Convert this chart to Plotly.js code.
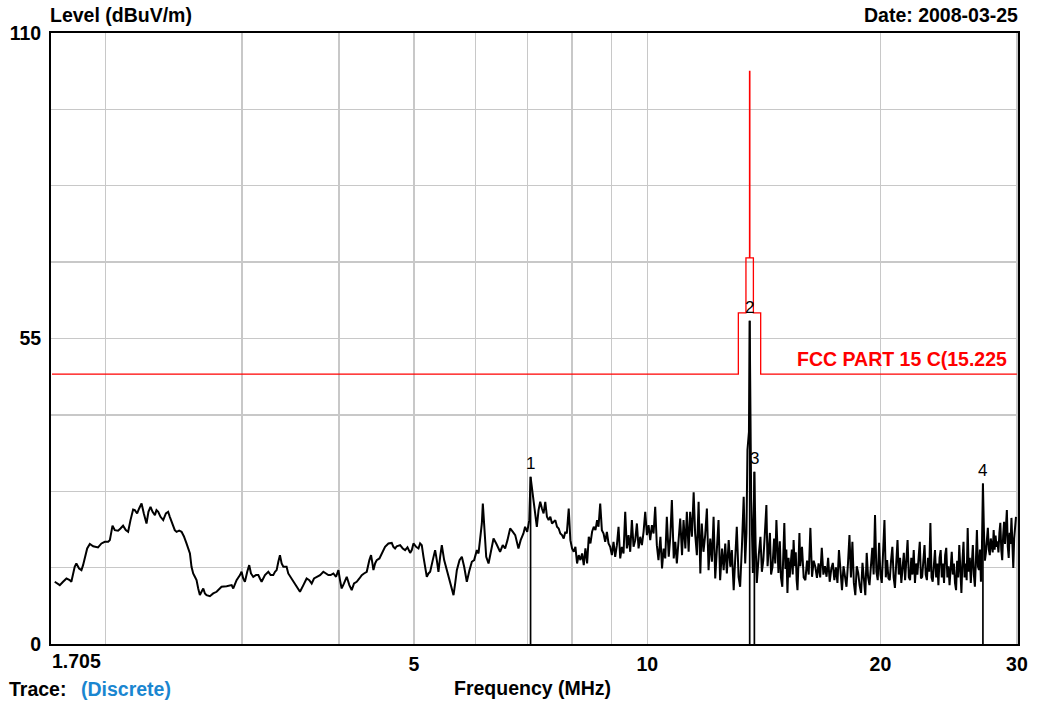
<!DOCTYPE html>
<html>
<head>
<meta charset="utf-8">
<script src="https://cdn.plot.ly/plotly-3.0.1.min.js"></script>
<style>html,body{margin:0;padding:0;background:#fff;}#chart{width:1038px;height:701px;}</style>
</head>
<body>
<div id="chart"></div>
<script>
// ---- Data ----
const traceFreq = [
1.719,1.745,1.762,1.780,1.797,1.806,1.824,1.833,1.848,1.861,1.870,1.879,1.893,1.908,1.927,1.955,1.975,1.995,2.015,2.025,
2.041,2.055,2.075,2.090,2.106,2.123,2.138,2.153,2.170,2.181,2.196,2.209,2.225,2.240,2.258,2.271,2.285,2.299,2.315,2.326,
2.338,2.354,2.373,2.392,2.408,2.420,2.432,2.456,2.469,2.488,2.506,2.523,2.543,2.556,2.569,2.581,2.594,2.607,2.620,2.633,
2.646,2.659,2.673,2.686,2.699,2.726,2.753,2.781,2.822,2.865,2.908,2.922,2.951,2.981,2.995,3.010,3.025,3.046,3.064,3.080,
3.101,3.126,3.148,3.163,3.179,3.211,3.243,3.265,3.291,3.308,3.324,3.341,3.357,3.374,3.391,3.408,3.424,3.441,3.476,3.510,
3.563,3.599,3.634,3.663,3.689,3.715,3.744,3.782,3.819,3.850,3.876,3.903,3.935,3.966,3.994,4.013,4.033,4.061,4.094,4.126,
4.155,4.184,4.217,4.251,4.281,4.310,4.345,4.379,4.401,4.419,4.432,4.454,4.476,4.512,4.543,4.566,4.588,4.634,4.680,4.703,
4.727,4.750,4.798,4.836,4.870,4.904,4.943,4.967,4.992,5.032,5.067,5.092,5.117,5.143,5.168,5.194,5.220,5.246,5.287,5.324,
5.351,5.377,5.404,5.431,5.469,5.512,5.567,5.623,5.651,5.679,5.724,5.764,5.804,5.850,5.897,5.938,5.979,6.027,6.057,6.087,
6.117,6.135,6.160,6.197,6.240,6.283,6.333,6.384,6.428,
6.458,6.509,6.555,6.601,6.654,6.708,6.755,6.820,6.865,6.922,6.956,7.000,7.043,7.070,7.131,7.167,7.203,7.240,7.276,7.313,
7.349,7.386,7.423,7.460,7.498,7.535,7.572,7.610,7.648,7.686,7.724,7.763,7.802,7.840,7.874,7.919,7.958,7.998,8.038,8.078,
8.118,8.158,8.199,8.240,8.281,8.322,8.364,8.405,8.447,8.489,8.531,8.574,8.616,8.652,
8.696,8.739,8.783,8.826,8.870,8.914,8.958,9.003,9.047,9.092,9.138,9.183,9.229,9.274,9.320,9.367,9.413,9.460,9.507,9.554,
9.602,9.650,9.698,9.746,9.794,9.843,9.892,9.941,9.991,10.04,10.09,10.14,10.19,10.24,10.29,10.34,10.40,10.45,10.50,10.55,
10.60,10.66,10.71,10.76,10.82,10.87,10.92,10.98,11.03,11.09,11.14,11.20,11.25,11.31,11.36,11.42,11.48,11.53,11.59,11.65,
11.71,11.76,11.82,11.88,11.94,12.00,12.06,12.12,12.18,12.24,12.30,12.36,12.42,12.49,12.55,12.61,12.67,12.74,12.80,12.86,
12.93,12.99,13.05,13.12,13.18,13.25,13.32,13.38,
13.43,13.47,13.53,13.56,13.59,13.62,13.65,13.69,13.72,13.75,13.80,13.85,
13.93,14.00,14.06,14.12,14.18,14.25,14.30,14.34,14.40,14.45,14.51,14.58,14.63,14.68,14.73,14.77,14.83,14.88,14.94,14.99,
15.03,15.08,15.12,15.17,15.22,15.27,15.31,15.37,15.41,15.45,15.50,15.55,15.59,15.63,15.68,15.72,
15.76,15.84,15.92,16.00,16.08,16.16,16.24,16.32,16.40,16.48,16.56,16.64,16.72,16.80,16.88,16.96,17.04,17.12,17.20,17.28,
17.36,17.44,17.52,17.60,17.68,17.76,17.84,17.92,18.00,18.08,18.16,18.24,18.32,18.40,18.48,18.56,18.64,18.72,18.80,18.88,
18.96,19.04,19.12,19.20,19.28,19.36,19.44,19.52,19.60,19.68,19.76,19.84,19.92,20.00,20.08,20.16,20.24,20.32,20.40,20.48,
20.56,20.64,20.72,20.80,20.88,20.96,21.04,21.12,21.20,21.28,21.36,21.44,21.52,21.60,21.68,21.76,21.84,21.92,22.00,22.08,
22.16,22.24,22.32,22.40,22.48,22.56,22.64,22.72,22.80,22.88,22.96,23.04,23.12,23.20,23.28,23.36,23.44,23.52,23.60,23.68,
23.76,23.84,23.92,24.00,24.08,24.16,24.24,24.32,24.40,24.48,24.56,24.64,24.72,24.80,24.88,24.96,25.04,25.12,25.20,25.28,
25.36,25.44,25.52,25.60,25.68,25.76,25.84,25.92,26.00,26.08,26.16,26.24,26.32,26.40,26.48,26.56,26.64,26.72,26.80,26.88,
26.96,27.04,27.12,27.20,27.28,27.36,27.44,27.52,27.60,27.68,27.76,27.84,27.92,28.00,28.08,28.16,28.24,28.32,28.40,28.48,
28.56,28.64,28.72,28.80,28.88,28.96,29.04,29.12,29.20,29.28,29.36,29.44,29.52,29.60,29.68,29.76,29.84,29.92
];
const traceLevel = [
11.2,10.6,11.2,11.8,11.5,11.2,13.9,14.5,13.6,13.3,14.2,15.4,17.2,18.0,17.6,17.4,18.1,18.4,18.4,18.7,
21.3,20.5,20.4,20.8,21.3,20.5,20.2,22.3,24.2,24.1,23.5,24.4,25.3,23.5,21.7,23.8,24.7,23.8,23.2,24.1,
23.8,22.9,22.3,23.5,23.8,22.9,22.0,20.5,20.2,20.4,20.2,19.4,18.1,17.2,16.3,13.9,12.7,12.1,11.5,10.0,
8.8,9.4,10.0,9.1,8.8,8.6,9.1,9.4,10.3,10.4,10.6,10.0,11.5,12.4,13.0,11.8,11.2,13.0,14.2,12.7,
12.1,12.4,12.4,11.8,11.2,12.4,13.0,12.4,12.4,13.0,13.3,14.8,16.0,14.5,13.9,13.9,13.9,12.7,11.8,10.9,
9.4,10.6,11.8,11.5,10.9,11.8,12.1,12.4,13.0,12.7,12.4,12.4,12.7,12.1,13.3,11.5,10.0,10.9,12.1,10.6,
9.7,10.9,11.2,11.8,12.4,12.7,13.0,15.1,16.0,14.5,13.3,14.5,15.1,15.4,16.3,16.9,17.5,18.1,18.2,17.5,
17.2,17.6,17.8,17.2,16.9,17.4,16.4,16.9,18.1,17.5,17.2,18.1,17.8,15.7,13.9,12.1,12.7,13.0,15.1,16.9,
15.1,13.0,15.7,17.8,15.1,13.3,11.5,8.8,10.9,13.3,15.1,15.7,13.9,11.2,13.3,14.8,15.1,16.9,16.3,18.7,
21.7,25.3,21.1,15.7,14.5,16.9,19.0,18.1,17.2,
16.6,17.8,17.2,18.7,20.8,20.2,19.6,17.2,18.7,19.9,21.1,20.2,22.3,30.1,26.2,23.5,21.1,24.1,25.6,24.4,
23.5,25.6,22.9,22.3,22.9,21.7,22.0,22.3,21.1,20.8,19.9,19.6,19.0,20.2,19.9,24.4,18.7,17.2,16.6,17.5,
14.5,16.0,15.1,16.3,14.2,17.2,14.5,19.3,18.1,20.2,21.1,20.5,22.3,21.1,
25.3,20.5,19.9,18.4,20.2,18.1,17.5,16.0,18.4,15.7,17.8,21.1,15.4,17.5,16.3,23.8,17.2,19.6,16.6,22.3,
17.5,18.7,21.7,17.2,19.3,17.8,20.2,23.8,19.6,21.4,18.7,21.4,19.9,24.7,17.8,15.1,19.3,13.6,17.2,15.4,
22.9,15.7,19.3,25.9,15.4,18.4,14.5,19.0,22.6,16.0,22.3,17.2,23.8,16.6,23.8,19.3,27.3,19.9,16.0,25.6,
12.7,21.7,16.6,19.6,24.4,13.3,19.0,14.8,22.9,11.8,17.5,22.3,11.5,17.2,13.3,18.1,12.7,18.7,13.9,16.9,
9.7,15.1,21.1,12.1,10.3,17.5,26.5,14.5,
20.0,34.9,38.2,58.2,38.2,26.0,20.5,12.8,22.0,31.0,18.0,11.0,
16.0,19.3,13.0,15.1,19.5,25.0,14.0,16.4,20.0,12.5,13.9,19.0,14.5,22.3,15.0,12.8,18.5,12.0,10.3,16.5,
21.8,13.5,17.0,9.2,15.5,12.0,13.9,17.0,12.5,18.7,14.0,16.5,11.5,9.7,15.0,20.0,
14.0,17.5,12.0,11.5,15.0,12.5,20.9,12.1,15.0,13.9,11.9,14.5,12.0,17.3,12.5,14.0,12.1,15.5,11.2,13.5,
14.6,11.5,13.8,11.0,16.9,12.5,9.7,14.0,12.4,10.3,14.5,19.6,12.0,18.4,11.0,8.8,14.0,12.8,10.5,9.2,
14.6,11.0,8.8,16.4,12.0,10.6,15.0,17.3,12.5,23.2,13.0,11.5,18.2,12.5,11.0,15.5,22.3,12.0,15.1,11.8,
11.5,15.0,17.5,12.0,10.1,14.5,18.7,12.5,15.5,11.0,14.0,16.4,11.5,15.0,18.7,12.0,11.5,15.5,12.5,16.9,
11.0,14.5,12.5,15.5,18.4,11.8,12.1,15.0,17.8,12.5,11.5,15.5,13.0,21.8,12.0,11.2,15.0,16.9,12.0,14.5,
10.6,15.5,16.9,12.0,14.5,11.0,16.0,17.3,12.0,14.0,10.6,15.0,16.6,12.5,14.5,11.0,9.7,15.0,12.0,17.8,
12.5,9.2,15.0,18.4,12.0,14.5,11.5,20.9,13.0,15.5,11.0,16.0,17.8,12.5,10.3,15.0,20.5,14.0,13.3,17.0,
11.2,17.3,28.9,20.5,15.0,16.4,18.5,20.9,17.0,16.0,19.0,17.8,16.5,20.5,17.0,19.5,17.5,18.5,16.5,20.0,
21.8,17.0,15.1,19.5,22.0,18.0,20.5,24.1,17.5,15.5,20.0,18.0,22.7,17.0,13.7,19.0,21.0,22.9
];

const limitFreq  = [1.705, 13.11, 13.11, 13.41, 13.41, 13.553, 13.553, 13.567, 13.567, 13.71, 13.71, 14.01, 14.01, 30];
const limitLevel = [48.6, 48.6, 59.6, 59.6, 69.5, 69.5, 103.1, 103.1, 69.5, 69.5, 59.6, 59.6, 48.6, 48.6];
const limitName = 'FCC PART 15 C(15.225';

const markerFreq  = [7.07, 13.56, 13.75, 27.12];
const markerLevel = [30.1, 58.2, 31.0, 28.9];
const markerLabel = ['1', '2', '3', '4'];

const yTickVals = [0, 13.75, 27.5, 41.25, 55, 68.75, 82.5, 96.25, 110];
const yTickText = ['0', '', '', '', '55', '', '', '', '110'];
const xTickVals = [2, 3, 4, 5, 6, 7, 8, 9, 10, 20, 30];
const xTickText = ['', '', '', '5', '', '', '', '', '10', '20', '30'];
const xStartLabel = '1.705';

const yTitle = 'Level (dBuV/m)';
const xTitle = 'Frequency (MHz)';
const dateText = 'Date: 2008-03-25';
const traceTag = 'Trace:';
const traceMode = '(Discrete)';

// ---- Build figure ----
const FONT = 'Liberation Sans, Arial, Helvetica, sans-serif';
const bold = (size, color) => ({family: FONT, size: size, color: color || '#000', weight: 'bold'});

const mx = [], my = [];
markerFreq.forEach((f, i) => { mx.push(f, f, null); my.push(0, markerLevel[i], null); });

const data = [
  {x: limitFreq, y: limitLevel, type: 'scatter', mode: 'lines',
   line: {color: '#ff0000', width: 1.3}, hoverinfo: 'skip'},
  {x: traceFreq, y: traceLevel, type: 'scatter', mode: 'lines',
   line: {color: '#000000', width: 2}, hoverinfo: 'skip'},
  {x: mx, y: my, type: 'scatter', mode: 'lines',
   line: {color: '#000000', width: 1.7}, hoverinfo: 'skip'}
];

const annotations = [];
markerFreq.forEach((f, i) => annotations.push({
  x: Math.log10(f), y: markerLevel[i], xref: 'x', yref: 'y', text: markerLabel[i],
  showarrow: false, yanchor: 'middle', xanchor: 'center', yshift: 13,
  font: {family: FONT, size: 17, color: '#000'}
}));
annotations.push({x: Math.log10(30), y: limitLevel[limitLevel.length - 1], xref: 'x', yref: 'y',
  text: limitName, showarrow: false, xanchor: 'right', yanchor: 'bottom', xshift: -8, yshift: 2,
  font: bold(19.5, '#ff0000')});
annotations.push({x: 0, y: 1, xref: 'paper', yref: 'paper', text: yTitle, showarrow: false,
  xanchor: 'left', yanchor: 'middle', xshift: -3, yshift: 18, font: bold(19.5)});
annotations.push({x: 1, y: 1, xref: 'paper', yref: 'paper', text: dateText, showarrow: false,
  xanchor: 'right', yanchor: 'middle', xshift: 2, yshift: 18, font: bold(19.5)});
annotations.push({x: Math.log10(1.705), y: 0, xref: 'x', yref: 'paper', text: xStartLabel, showarrow: false,
  xanchor: 'left', yanchor: 'middle', xshift: -2, yshift: -17, font: bold(19.5)});
annotations.push({x: 0.4975, y: 0, xref: 'paper', yref: 'paper', text: xTitle, showarrow: false,
  xanchor: 'center', yanchor: 'middle', yshift: -44, font: bold(19.5)});
annotations.push({x: 0, y: 0, xref: 'paper', yref: 'paper', text: traceTag, showarrow: false,
  xanchor: 'left', yanchor: 'middle', xshift: -44, yshift: -45, font: bold(19.5)});
annotations.push({x: 0, y: 0, xref: 'paper', yref: 'paper', text: traceMode, showarrow: false,
  xanchor: 'left', yanchor: 'middle', xshift: 28, yshift: -45, font: bold(19.5, '#1a86d0')});

const layout = {
  width: 1038, height: 701,
  margin: {l: 51, r: 20, t: 33, b: 57, pad: 0},
  paper_bgcolor: '#ffffff', plot_bgcolor: '#ffffff',
  showlegend: false,
  xaxis: {
    type: 'log', range: [Math.log10(1.7), Math.log10(30.1)],
    tickmode: 'array', tickvals: xTickVals, ticktext: xTickText,
    showgrid: true, gridcolor: '#c8c8c8', gridwidth: 1.4,
    showline: true, linecolor: '#000', linewidth: 2, mirror: true,
    ticks: '', zeroline: false, tickfont: bold(19.5), ticklabelstandoff: 2
  },
  yaxis: {
    range: [0, 110], tickmode: 'array', tickvals: yTickVals, ticktext: yTickText,
    showgrid: true, gridcolor: '#c8c8c8', gridwidth: 1.4,
    showline: true, linecolor: '#000', linewidth: 2, mirror: true,
    ticks: '', zeroline: false, tickfont: bold(19.5), ticklabelstandoff: 4
  },
  annotations: annotations
};

Plotly.newPlot('chart', data, layout, {staticPlot: true, displayModeBar: false});
</script>
</body>
</html>
